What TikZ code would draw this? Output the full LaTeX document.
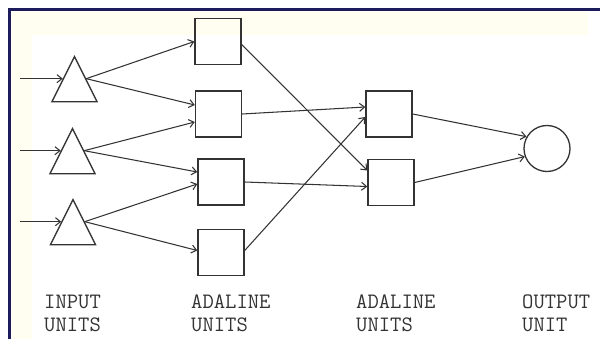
\documentclass[tikz,border=0pt]{standalone}
\usetikzlibrary{shapes.geometric,arrows.meta}
\definecolor{ink}{HTML}{333333}
\definecolor{frame}{HTML}{1C1C5A}
\definecolor{cream}{HTML}{FFFEF0}
\definecolor{txt}{HTML}{333333}
\begin{document}
\begin{tikzpicture}[x=1pt,y=-1pt,
  unit/.style={draw=ink,line width=1.4pt,minimum size=46pt,inner sep=0pt},
  inunit/.style={draw=ink,line width=1.3pt,isosceles triangle,isosceles triangle stretches,
     shape border rotate=90,minimum width=45pt,minimum height=45pt,inner sep=0pt,anchor=apex},
  outunit/.style={draw=ink,line width=1.3pt,circle,minimum size=46pt,inner sep=0pt},
  link/.style={draw=ink,line width=1.05pt,-{Straight Barb[length=5pt,width=8pt]}},
  lab/.style={font=\ttfamily\fontsize{22}{23}\selectfont,text=txt,align=left,anchor=west,inner sep=0pt}]
\useasboundingbox (0,0) rectangle (600,339);
\fill[white] (0,0) rectangle (600,339);
\fill[cream] (12,12) rectangle (588,35);
\fill[cream] (12,12) rectangle (32,339);
\draw[frame,line width=3pt] (8,9.5) -- (600,9.5);
\draw[frame,line width=3pt] (9.5,8) -- (9.5,339);
% input units
\node[inunit] (t1) at (74.5,55) {};
\node[inunit] (t2) at (72.5,127) {};
\node[inunit] (t3) at (73,198) {};
\coordinate (i0) at (20,0);
\draw[link] (i0 |- t1.left side) -- (t1.left side);
\draw[link] (i0 |- t2.left side) -- (t2.left side);
\draw[link] (i0 |- t3.left side) -- (t3.left side);
% first adaline layer
\node[unit] (s1) at (218,41.5) {};
\node[unit] (s2) at (218.5,114) {};
\node[unit] (s3) at (221,182) {};
\node[unit] (s4) at (221,252.5) {};
% second adaline layer
\node[unit] (s5) at (389,114) {};
\node[unit] (s6) at (391,182.5) {};
% output
\node[outunit] (o) at (547,148.5) {};
% connections input -> adaline 1
\draw[link] (t1.right side) -- (s1.west);
\draw[link] (t1.right side) -- ([yshift=9pt]s2.west);
\draw[link] (t2.right side) -- ([yshift=-8pt]s2.west);
\draw[link] (t2.right side) -- ([yshift=10pt]s3.west);
\draw[link] (t3.right side) -- ([yshift=-2pt]s3.west);
\draw[link] (t3.right side) -- ([yshift=2pt]s4.west);
% adaline 1 -> adaline 2
\draw[link] ([yshift=-3pt]s1.east) -- ([yshift=12pt]s6.west);
\draw[link] (s2.east) -- ([yshift=7pt]s5.west);
\draw[link] (s3.east) -- ([yshift=-4pt]s6.west);
\draw[link] ([yshift=2pt]s4.east) -- ([yshift=-3pt]s5.west);
% adaline 2 -> output
\draw[link] (s5.east) -- (o.150);
\draw[link] (s6.east) -- (o.200);
% labels
\node[lab] (l1) at (44,313.5) {INPUT\\UNITS};
\node[lab] (l2) at (191,313.5) {ADALINE\\UNITS};
\node[lab] (l3) at (356,313.5) {ADALINE\\UNITS};
\node[lab] (l4) at (522,313.5) {OUTPUT\\UNIT};
\end{tikzpicture}
\end{document}
